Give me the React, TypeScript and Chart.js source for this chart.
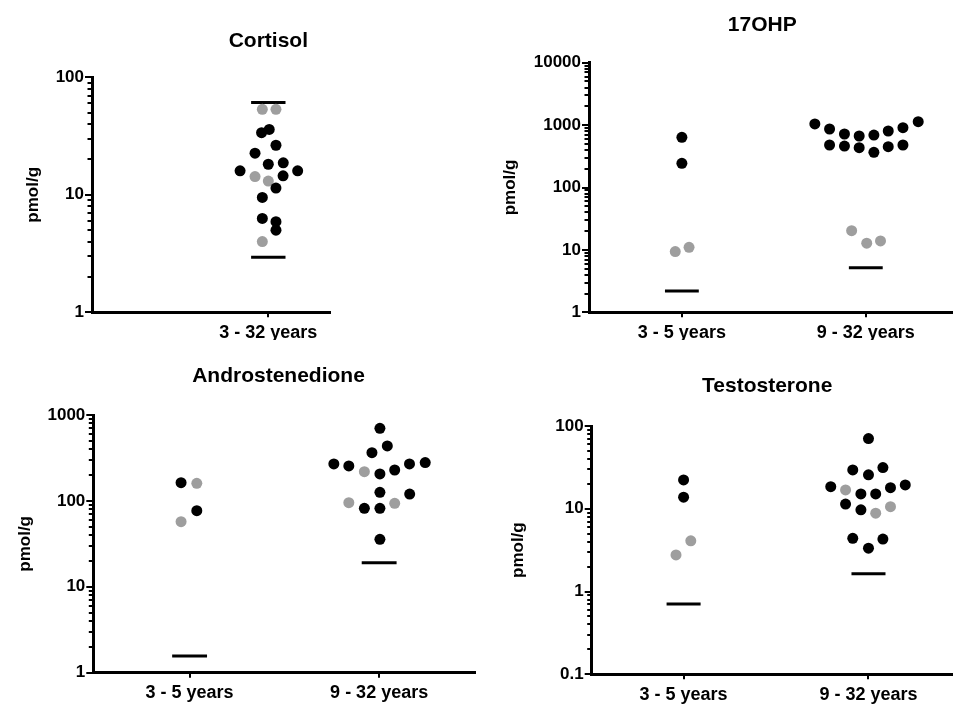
import React, { useEffect, useRef } from 'react';
import { Chart, registerables } from 'chart.js';

Chart.register(...registerables);

// ---------- data ----------
// Cortisol (one age group)
const cortisolLabels = ['3 - 32 years'];
const cortisolDark = [36, 33.8, 26.4, 22.6, 18.7, 18.2, 16.0, 16.0, 14.5, 11.4, 9.5, 6.3, 5.9, 5.0];
const cortisolDarkSpread = [0.005, -0.036, 0.041, -0.071, 0.08, 0, -0.151, 0.157, 0.079, 0.041, -0.032, -0.032, 0.041, 0.041];
const cortisolLight = [53.4, 53.4, 14.3, 13.1, 4.0];
const cortisolLightSpread = [-0.032, 0.041, -0.071, 0, -0.032];
const cortisolMarks = [61, 2.94];

// 17OHP
const ohpLabels = ['3 - 5 years', '9 - 32 years'];
const ohpYoungDark = [637, 244];
const ohpYoungDarkSpread = [0, 0];
const ohpYoungLight = [9.4, 11.0];
const ohpYoungLightSpread = [-0.036, 0.039];
const ohpYoungMarks = [2.19];
const ohpOldDark = [1042, 866, 720, 669, 693, 804, 908, 1135, 480, 462, 435, 366, 451, 480];
const ohpOldDarkSpread = [-0.277, -0.197, -0.116, -0.036, 0.044, 0.122, 0.202, 0.285, -0.197, -0.116, -0.036, 0.044, 0.122, 0.202];
const ohpOldLight = [20.3, 12.8, 13.9];
const ohpOldLightSpread = [-0.077, 0.005, 0.08];
const ohpOldMarks = [5.19];

// Androstenedione
const androLabels = ['3 - 5 years', '9 - 32 years'];
const androYoungDark = [163, 76.9];
const androYoungDarkSpread = [-0.045, 0.038];
const androYoungLight = [160, 57.3];
const androYoungLightSpread = [0.038, -0.045];
const androYoungMarks = [1.56];
const androOldDark = [700, 436, 364, 269, 255, 206, 229, 269, 279, 126, 120, 82, 82, 35.7];
const androOldDarkSpread = [0.004, 0.043, -0.038, -0.239, -0.16, 0.004, 0.082, 0.16, 0.243, 0.004, 0.161, -0.078, 0.004, 0.004];
const androOldLight = [219, 95.3, 93.8];
const androOldLightSpread = [-0.078, -0.16, 0.082];
const androOldMarks = [19.1];

// Testosterone
const testoLabels = ['3 - 5 years', '9 - 32 years'];
const testoYoungDark = [22.3, 13.8];
const testoYoungDarkSpread = [0, 0];
const testoYoungLight = [4.1, 2.77];
const testoYoungLightSpread = [0.039, -0.041];
const testoYoungMarks = [0.705];
const testoOldDark = [70.4, 29.5, 31.5, 25.7, 18.5, 19.4, 18.0, 15.1, 15.1, 11.4, 9.7, 4.4, 4.3, 3.34];
const testoOldDarkSpread = [0, -0.085, 0.078, 0, -0.204, 0.199, 0.119, -0.041, 0.039, -0.124, -0.041, -0.085, 0.078, 0];
const testoOldLight = [16.9, 8.85, 10.6];
const testoOldLightSpread = [-0.124, 0.039, 0.119];
const testoOldMarks = [1.64];

// ---------- styling ----------
const FONT = '"Liberation Sans", Arial, Helvetica, sans-serif';
const DARK = '#000000';
const LIGHT = '#9e9e9e';
const MARK_HALF = 0.092;

type Group = {
  cat: number;
  dark: number[];
  darkSpread: number[];
  light: number[];
  lightSpread: number[];
  marks: number[];
};

type Panel = {
  title: string;
  labels: string[];
  groups: Group[];
  yMin: number;
  yMax: number;
  xMin: number;
  xMax: number;
  box: { left: number; top: number; width: number; height: number };
  area: { left: number; top: number; right: number; bottom: number };
  yTitleX: number;
  titleY: number;
  titleAt: number;
};

const panels: Panel[] = [
  {
    title: 'Cortisol',
    labels: cortisolLabels,
    groups: [
      { cat: 1, dark: cortisolDark, darkSpread: cortisolDarkSpread, light: cortisolLight, lightSpread: cortisolLightSpread, marks: cortisolMarks },
    ],
    yMin: 1, yMax: 100, xMin: 0.057, xMax: 1.33,
    box: { left: 0, top: 0, width: 340, height: 340 },
    area: { left: 92, top: 77.3, right: 330, bottom: 312.3 },
    yTitleX: 33, titleY: 41.7, titleAt: 1,
  },
  {
    title: '17OHP',
    labels: ohpLabels,
    groups: [
      { cat: 1, dark: ohpYoungDark, darkSpread: ohpYoungDarkSpread, light: ohpYoungLight, lightSpread: ohpYoungLightSpread, marks: ohpYoungMarks },
      { cat: 2, dark: ohpOldDark, darkSpread: ohpOldDarkSpread, light: ohpOldLight, lightSpread: ohpOldLightSpread, marks: ohpOldMarks },
    ],
    yMin: 1, yMax: 10000, xMin: 0.495, xMax: 2.466,
    box: { left: 478, top: 0, width: 479, height: 340 },
    area: { left: 111, top: 62.7, right: 479, bottom: 312.3 },
    yTitleX: 32, titleY: 25, titleAt: 1.437,
  },
  {
    title: 'Androstenedione',
    labels: androLabels,
    groups: [
      { cat: 1, dark: androYoungDark, darkSpread: androYoungDarkSpread, light: androYoungLight, lightSpread: androYoungLightSpread, marks: androYoungMarks },
      { cat: 2, dark: androOldDark, darkSpread: androOldDarkSpread, light: androOldLight, lightSpread: androOldLightSpread, marks: androOldMarks },
    ],
    yMin: 1, yMax: 1000, xMin: 0.492, xMax: 2.503,
    box: { left: 0, top: 340, width: 480, height: 364 },
    area: { left: 93.3, top: 75, right: 480, bottom: 332.7 },
    yTitleX: 25, titleY: 36.7, titleAt: 1.469,
  },
  {
    title: 'Testosterone',
    labels: testoLabels,
    groups: [
      { cat: 1, dark: testoYoungDark, darkSpread: testoYoungDarkSpread, light: testoYoungLight, lightSpread: testoYoungLightSpread, marks: testoYoungMarks },
      { cat: 2, dark: testoOldDark, darkSpread: testoOldDarkSpread, light: testoOldLight, lightSpread: testoOldLightSpread, marks: testoOldMarks },
    ],
    yMin: 0.1, yMax: 100, xMin: 0.503, xMax: 2.449,
    box: { left: 480, top: 340, width: 477, height: 364 },
    area: { left: 111.7, top: 86, right: 477, bottom: 334.3 },
    yTitleX: 38, titleY: 46.7, titleAt: 1.452,
  },
];

function buildDatasets(groups: Group[]) {
  const dark: { x: number; y: number }[] = [];
  const light: { x: number; y: number }[] = [];
  const marks: { x: number; y: number }[][] = [];
  groups.forEach((g) => {
    g.dark.forEach((v, i) => dark.push({ x: g.cat + g.darkSpread[i], y: v }));
    g.light.forEach((v, i) => light.push({ x: g.cat + g.lightSpread[i], y: v }));
    g.marks.forEach((v) =>
      marks.push([
        { x: g.cat - MARK_HALF, y: v },
        { x: g.cat + MARK_HALF, y: v },
      ])
    );
  });
  return [
    { data: dark, backgroundColor: DARK, borderColor: DARK, pointRadius: 5.5, borderWidth: 0, showLine: false },
    { data: light, backgroundColor: LIGHT, borderColor: LIGHT, pointRadius: 5.5, borderWidth: 0, showLine: false },
    ...marks.map((m) => ({
      data: m,
      showLine: true,
      borderColor: '#000',
      backgroundColor: '#000',
      borderWidth: 3,
      pointRadius: 0,
      fill: false,
    })),
  ];
}

const decor = {
  id: 'decor',
  afterDraw(chart: any, _args: any, opts: any) {
    const ctx = chart.ctx;
    const ys = chart.scales.y;
    const xs = chart.scales.x;
    const left = chart.chartArea.left;
    ctx.save();
    ctx.strokeStyle = '#000';
    ctx.lineWidth = 2;
    const e0 = Math.round(Math.log10(ys.min));
    const e1 = Math.round(Math.log10(ys.max));
    for (let e = e0; e < e1; e++) {
      const d = Math.pow(10, e);
      for (let k = 2; k <= 9; k++) {
        const py = Math.round(ys.getPixelForValue(k * d));
        ctx.beginPath();
        ctx.moveTo(left - 4.5, py);
        ctx.lineTo(left, py);
        ctx.stroke();
      }
    }
    ctx.fillStyle = '#000';
    ctx.font = `bold 21px ${FONT}`;
    ctx.textAlign = 'center';
    ctx.textBaseline = 'middle';
    ctx.fillText(opts.text, xs.getPixelForValue(opts.at), opts.y);
    ctx.restore();
  },
};

function PanelChart({ p }: { p: Panel }) {
  const ref = useRef<HTMLCanvasElement | null>(null);
  useEffect(() => {
    if (!ref.current) return;
    const decades: number[] = [];
    for (let e = Math.round(Math.log10(p.yMin)); e <= Math.round(Math.log10(p.yMax)); e++) {
      decades.push(Number(Math.pow(10, e).toPrecision(6)));
    }
    const chart = new Chart(ref.current, {
      type: 'scatter',
      data: { datasets: buildDatasets(p.groups) as any },
      options: {
        animation: false,
        responsive: false,
        events: [],
        layout: {
          padding: { left: 0, top: p.area.top, right: p.box.width - p.area.right, bottom: 0 },
        },
        plugins: {
          legend: { display: false },
          tooltip: { enabled: false },
          title: { display: false },
          decor: { text: p.title, at: p.titleAt, y: p.titleY },
        } as any,
        scales: {
          x: {
            type: 'linear',
            min: p.xMin,
            max: p.xMax,
            afterBuildTicks: (s: any) => {
              s.ticks = p.labels.map((_, i) => ({ value: i + 1 }));
            },
            afterFit: (s: any) => {
              s.height = p.box.height - p.area.bottom;
            },
            ticks: {
              autoSkip: false,
              maxRotation: 0,
              padding: 5,
              color: '#000',
              font: { family: FONT, size: 18, weight: 'bold' },
              callback: (v: any) => p.labels[Math.round(Number(v)) - 1] ?? '',
            },
            grid: { display: true, drawOnChartArea: false, drawTicks: true, tickLength: 5, color: '#000', lineWidth: 2 },
            border: { display: true, color: '#000', width: 3 },
          },
          y: {
            type: 'logarithmic',
            min: p.yMin,
            max: p.yMax,
            afterBuildTicks: (s: any) => {
              s.ticks = decades.map((v) => ({ value: v }));
            },
            afterFit: (s: any) => {
              s.width = p.area.left;
            },
            ticks: {
              autoSkip: false,
              padding: 1,
              color: '#000',
              font: { family: FONT, size: 17, weight: 'bold' },
              callback: (v: any) => String(v),
            },
            grid: { display: true, drawOnChartArea: false, drawTicks: true, tickLength: 7, color: '#000', lineWidth: 2 },
            border: { display: true, color: '#000', width: 3 },
            title: {
              display: true,
              text: 'pmol/g',
              color: '#000',
              font: { family: FONT, size: 17, weight: 'bold' },
              padding: { top: p.yTitleX - 10.2, bottom: 0 },
            },
          },
        },
      } as any,
      plugins: [decor],
    });
    return () => chart.destroy();
  }, [p]);
  return (
    <canvas
      ref={ref}
      width={p.box.width}
      height={p.box.height}
      style={{
        position: 'absolute',
        left: p.box.left,
        top: p.box.top,
        width: p.box.width,
        height: p.box.height,
        display: 'block',
      }}
    />
  );
}

export default function App() {
  return (
    <div
      style={{
        position: 'absolute',
        left: 0,
        top: 0,
        width: 957,
        height: 704,
        background: '#ffffff',
        overflow: 'hidden',
      }}
    >
      {panels.map((p) => (
        <PanelChart key={p.title} p={p} />
      ))}
    </div>
  );
}
